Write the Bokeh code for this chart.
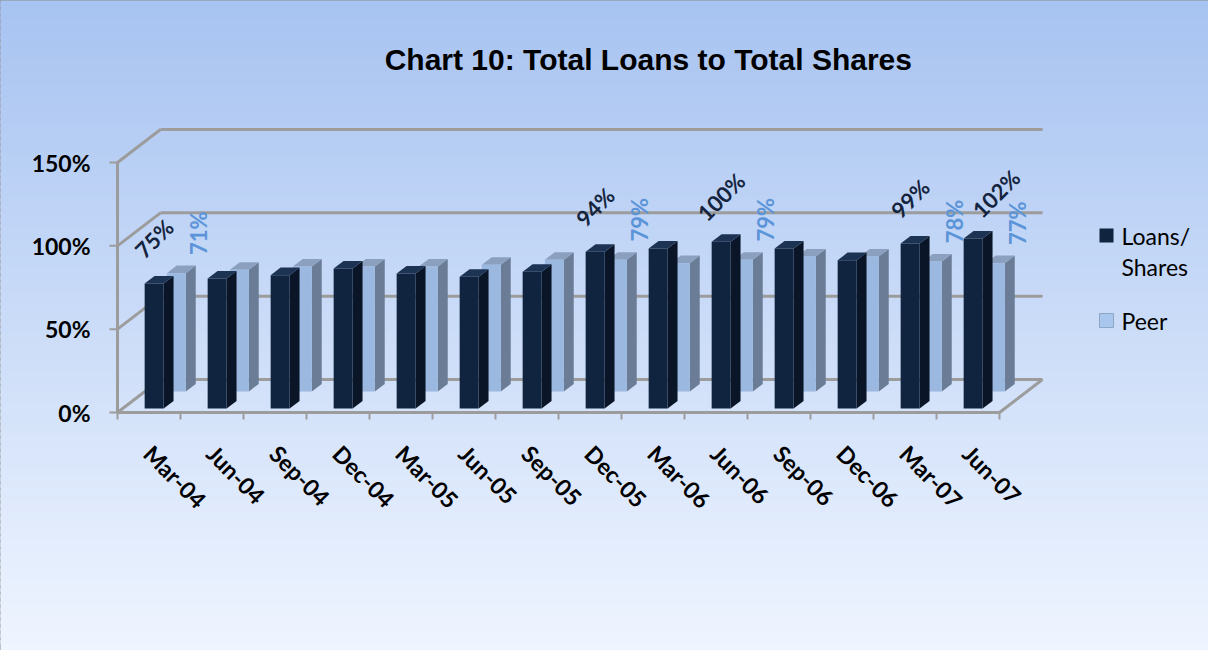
import numpy as np
from bokeh.plotting import figure
from bokeh.models import Range1d
from bokeh.core.properties import value
from bokeh.embed import file_html
from bokeh.resources import INLINE

# ---------------- data ----------------
categories = ["Mar-04", "Jun-04", "Sep-04", "Dec-04", "Mar-05", "Jun-05", "Sep-05",
              "Dec-05", "Mar-06", "Jun-06", "Sep-06", "Dec-06", "Mar-07", "Jun-07"]
loans_shares = [75, 78, 80, 84, 81, 79, 82, 94, 96, 100, 96, 89, 99, 102]
peer = [71, 73, 75, 75, 75, 76, 79, 79, 77, 79, 81, 81, 78, 77]
labelled = ["Mar-04", "Dec-05", "Jun-06", "Mar-07", "Jun-07"]
y_ticks = [0, 50, 100, 150]
y_tick_labels = ["0%", "50%", "100%", "150%"]
title_text = "Chart 10:  Total Loans to Total Shares"
legend_lines = [["Loans/", "Shares"], ["Peer"]]

# ---------------- geometry (page pixels -> data units) ----------------
W, H = 1208, 650
OFF = 8                      # page margin
X0, Y0 = 125, 420            # front axis origin on page
UX = 63.0                    # px per category
UY = 5.0 / 3.0               # px per percent
DU = 43.0 / UX               # depth offset in category units
DV = 33.0 / UY               # depth offset in percent units
N = len(categories)


def u(px):
    return (px - X0) / UX


def v(py):
    return (Y0 - py) / UY


p = figure(width=W, height=H, output_backend="svg", toolbar_location=None,
           x_range=Range1d(u(OFF), u(OFF + W)), y_range=Range1d(v(OFF + H), v(OFF)),
           min_border=0)
p.axis.visible = False
p.grid.visible = False
p.outline_line_color = "#8c8c8c"
p.outline_line_width = 2
p.background_fill_color = "#d2e2fb"
p.border_fill_color = "#d2e2fb"

# background gradient
nb = 100
edges = np.linspace(v(OFF + H), v(OFF), nb + 1)
step = edges[1] - edges[0]
c_top = np.array([0xa7, 0xc3, 0xf1])
c_bot = np.array([0xef, 0xf5, 0xff])
cols = []
for k in range(nb):
    t = (k + 0.5) / nb  # 0 bottom -> 1 top
    c = c_bot + (c_top - c_bot) * t
    cols.append("#%02x%02x%02x" % tuple(int(round(x)) for x in c))
p.quad(left=u(OFF) - 1, right=u(OFF + W) + 1, bottom=edges[:-1],
       top=edges[1:] + step * 0.6, fill_color=cols, line_color=None)

GRID = "#9c9c9c"
GW = 3
# back wall gridlines and left wall diagonals
p.segment(x0=[DU] * len(y_ticks), y0=[t + DV for t in y_ticks],
          x1=[N + DU] * len(y_ticks), y1=[t + DV for t in y_ticks],
          line_color=GRID, line_width=GW)
p.segment(x0=[0] * len(y_ticks), y0=y_ticks, x1=[DU] * len(y_ticks),
          y1=[t + DV for t in y_ticks], line_color=GRID, line_width=GW)
# floor right edge
p.segment(x0=[N], y0=[0], x1=[N + DU], y1=[DV], line_color=GRID, line_width=GW)
# front axes
p.segment(x0=[0], y0=[0], x1=[0], y1=[max(y_ticks)], line_color=GRID, line_width=GW)
p.segment(x0=[0], y0=[0], x1=[N], y1=[0], line_color=GRID, line_width=GW)
p.segment(x0=[u(117)] * len(y_ticks), y0=y_ticks, x1=[0] * len(y_ticks), y1=y_ticks,
          line_color=GRID, line_width=2)
p.segment(x0=list(range(N + 1)), y0=[0] * (N + 1), x1=list(range(N + 1)),
          y1=[-7 / UY] * (N + 1), line_color=GRID, line_width=2)

BW = 19.0 / UX


def draw_bars(vals, f0, f1, c_front, c_side, c_top):
    lefts = [i + 0.5 - BW / 2 + f0 * DU for i in range(N)]
    rights = [l + BW for l in lefts]
    b0 = f0 * DV
    sx, sy, tx, ty = [], [], [], []
    for l, r, h in zip(lefts, rights, vals):
        ddx, ddy = (f1 - f0) * DU, (f1 - f0) * DV
        sx.append([r, r + ddx, r + ddx, r])
        sy.append([b0, b0 + ddy, b0 + ddy + h, b0 + h])
        tx.append([l, r, r + ddx, l + ddx])
        ty.append([b0 + h, b0 + h, b0 + h + ddy, b0 + h + ddy])
    p.patches(xs=sx, ys=sy, fill_color=c_side, line_color=None)
    p.patches(xs=tx, ys=ty, fill_color=c_top, line_color=None)
    p.quad(left=lefts, right=rights, bottom=b0, top=[b0 + h for h in vals],
           fill_color=c_front, line_color=None)


PF0, PF1 = 0.636, 0.866
DF0, DF1 = 0.12, 0.35
draw_bars(peer, PF0, PF1, "#9bb8e0", "#6b7d96", "#8aa0be")
draw_bars(loans_shares, DF0, DF1, "#10243f", "#0a1628", "#1c3354")

LBL_FONT = value("Lato")
# data labels
dx_, dy_, dt_ = [], [], []
px_, py_, pt_ = [], [], []
for i, c in enumerate(categories):
    if c in labelled:
        nudge = 23 / UX if i == N - 1 else 0
        dx_.append(i + 0.5 + DF0 * DU + nudge)
        dy_.append(DF0 * DV + loans_shares[i] + 45 / UY)
        dt_.append("%d%%" % loans_shares[i])
        px_.append(i + 0.5 + PF0 * DU + 22 / UX)
        py_.append(PF0 * DV + peer[i] + 40 / UY)
        pt_.append("%d%%" % peer[i])
p.text(x=dx_, y=dy_, text=dt_, angle=np.pi / 4, text_align="center",
       text_baseline="middle", text_font=LBL_FONT, text_font_style="bold",
       text_font_size="22px", text_color="#15243e")
p.text(x=px_, y=py_, text=pt_, angle=np.pi / 2, text_align="center",
       text_baseline="middle", text_font=LBL_FONT, text_font_style="bold",
       text_font_size="22px", text_color="#5b94d8")

# y tick labels
p.text(x=[u(98)] * len(y_ticks), y=y_ticks, text=y_tick_labels, text_align="right",
       text_baseline="middle", text_font=LBL_FONT, text_font_style="bold",
       text_font_size="23px", text_color="#000000")
# x tick labels
p.text(x=[i + 0.5 - 1 / UX for i in range(N)], y=[v(457)] * N, text=categories,
       angle=-np.pi / 4, text_align="left", text_baseline="middle",
       text_font=LBL_FONT, text_font_style="bold", text_font_size="23px",
       text_color="#000000")

# title
p.text(x=[u(660)], y=[v(67)], text=[title_text], text_align="center",
       text_baseline="alphabetic", text_font=value("Liberation Sans"),
       text_font_style="bold", text_font_size="30px", text_color="#000000")

# legend
p.quad(left=[u(1107)], right=[u(1121)], bottom=[v(250)], top=[v(236)],
       fill_color="#10243f", line_color=None)
p.quad(left=[u(1107)], right=[u(1121)], bottom=[v(335)], top=[v(321)],
       fill_color="#a9c6ec", line_color="#8ea6c6", line_width=1)
p.text(x=[u(1129)] * 3, y=[v(243), v(274), v(328)],
       text=legend_lines[0] + legend_lines[1], text_align="left",
       text_baseline="middle", text_font=LBL_FONT, text_font_size="23px",
       text_color="#000000")

open("out.html", "w").write(file_html(p, INLINE))
